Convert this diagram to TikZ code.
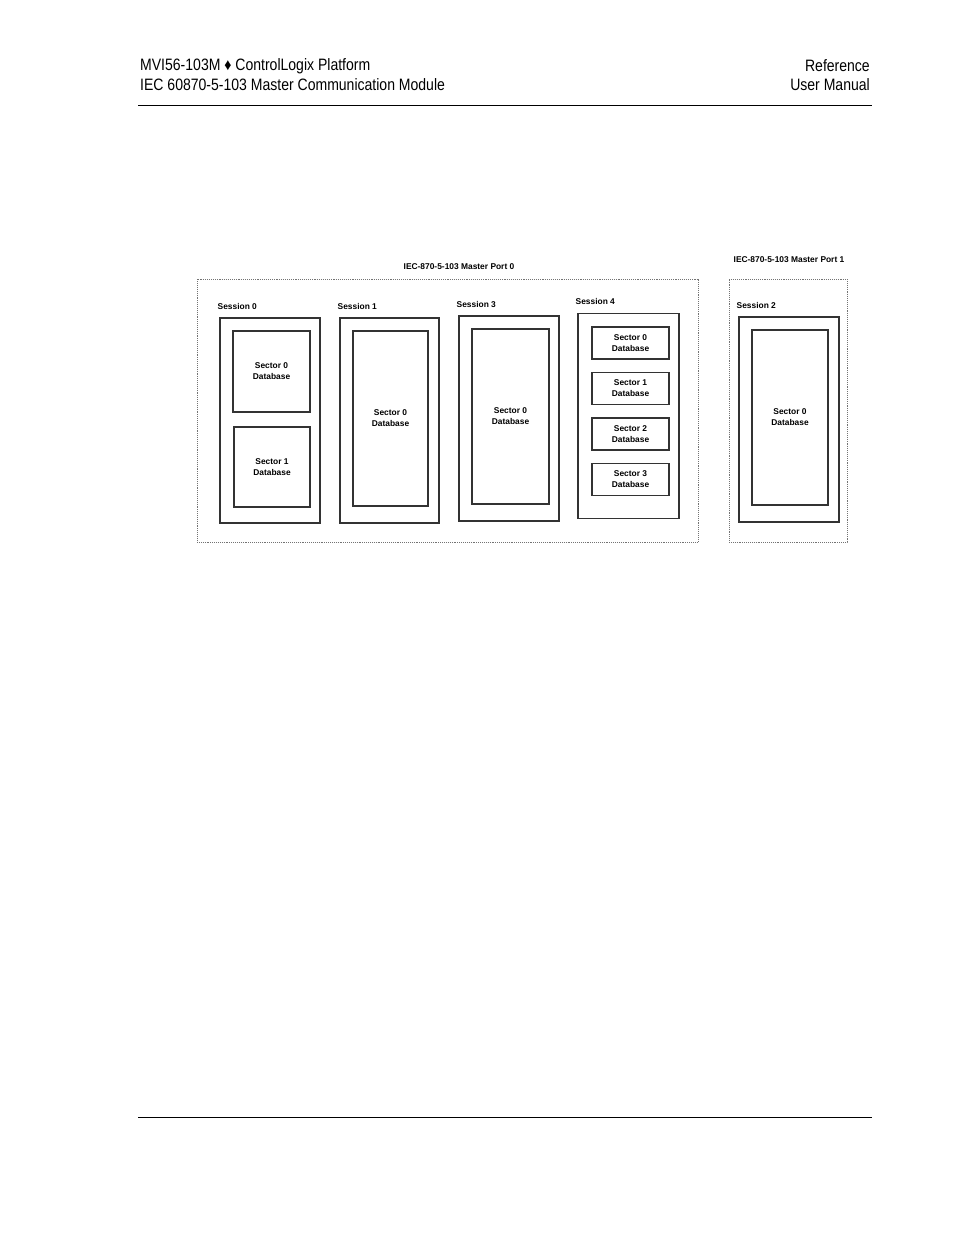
\documentclass[tikz,border=0pt]{standalone}
\usepackage{fontspec}
\setmainfont{Liberation Sans}
\newfontfamily\narrowfont[FakeStretch=0.85]{Liberation Sans}
\usetikzlibrary{calc,positioning}

\begin{document}
\begin{tikzpicture}[
  x=1pt, y=-1pt,
  hdrtext/.style={font=\narrowfont\fontsize{16.5}{19}\selectfont, inner sep=0pt},
  rule/.style={line width=1pt},
  portbox/.style={draw=black!55, densely dotted, line width=.9pt, inner sep=0pt, outer sep=0pt},
  sessbox/.style={draw=black!80, line width=1.4pt, inner sep=0pt, outer sep=0pt},
  dbbox/.style={draw=black!80, line width=1.2pt, inner sep=0pt, outer sep=0pt,
    align=center, font=\bfseries\fontsize{8.4}{11}\selectfont},
  smalltext/.style={font=\bfseries\fontsize{8.4}{10}\selectfont, inner sep=0pt},
  ]

  \useasboundingbox (0,0) rectangle (954,1235);

  % page header and footer
  \node (title_left_1) [hdrtext, anchor=west] at (140,66) {MVI56-103M ♦ ControlLogix Platform};
  \node (title_left_2) [hdrtext, anchor=west] at (140,85) {IEC 60870-5-103 Master Communication Module};
  \node (title_right_1) [hdrtext, anchor=east] at (870,66) {Reference};
  \node (title_right_2) [hdrtext, anchor=east] at (870,85) {User Manual};
  \coordinate (head_l) at (138,105);
  \coordinate (head_r) at (872,105);
  \draw[rule] (head_l) -- (head_r);
  \coordinate (foot_l) at (138,1117);
  \coordinate (foot_r) at (872,1117);
  \draw[rule] (foot_l) -- (foot_r);

  % ports
  \node (port_0) [portbox, minimum width=501pt, minimum height=263pt] at (447.5,410.5) {};
  \node (port_1) [portbox, minimum width=118pt, minimum height=263pt] at (788,410.5) {};
  \node (port_0_title) [smalltext] at ($(port_0.north)+(11.5,-12)$) {IEC-870-5-103 Master Port 0};
  \node (port_1_title) [smalltext] at ($(port_1.north)+(1,-19)$) {IEC-870-5-103 Master Port 1};

  % sessions
  \foreach \s/\x/\y/\w in {0/270/420.5/100, 1/389.5/420.5/99, 3/509/418.5/100, 4/628.5/416/101, 2/789/419.5/100}
  {
    \node (session_\s) [sessbox, minimum width=\w pt, minimum height=205pt] at (\x,\y) {};
    \node (session_\s_label) [smalltext, anchor=west] at ($(session_\s.north west)+(-2.5,-12)$) {Session \s};
  }

  % databases
  \node (s0_sector_0) [dbbox, minimum width=77pt, minimum height=81pt] at (271.5,371.5) {Sector 0\\Database};
  \node (s0_sector_1) [dbbox, minimum width=76pt, minimum height=80pt] at (272,467) {Sector 1\\Database};
  \node (s1_sector_0) [dbbox, minimum width=75pt, minimum height=175pt] at (390.5,418.5) {Sector 0\\Database};
  \node (s3_sector_0) [dbbox, minimum width=77pt, minimum height=175pt] at (510.5,416.5) {Sector 0\\Database};
  \node (s2_sector_0) [dbbox, minimum width=76pt, minimum height=175pt] at (790,417.5) {Sector 0\\Database};
  \foreach \c in {0,...,3}
  {
    \node (s4_sector_\c) [dbbox, minimum width=77pt, minimum height=32pt] at ($(630.5,343)+(0,45.5*\c)$) {Sector \c\\Database};
  }

\end{tikzpicture}
\end{document}
